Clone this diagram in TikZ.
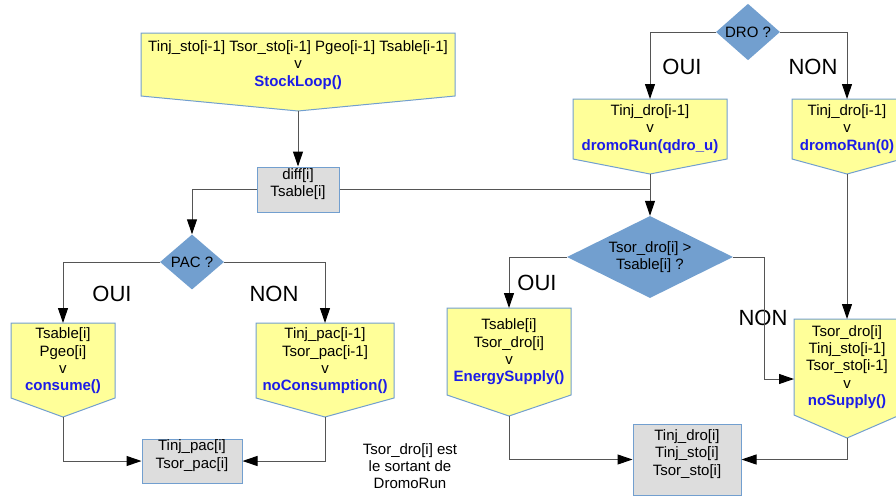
\documentclass[tikz,border=0pt]{standalone}
\usepackage{fontspec}
\setmainfont{Liberation Sans}
\usetikzlibrary{shapes.geometric,fit,arrows.meta}

\definecolor{boxyellow}{HTML}{FFFF99}
\definecolor{boxblue}{HTML}{729FCF}
\definecolor{boxgray}{HTML}{DDDDDD}
\definecolor{linegray}{HTML}{555555}
\definecolor{fnblue}{HTML}{1C1CE8}

\newcommand{\fncall}[1]{\textcolor{fnblue}{\textbf{#1}}}
% pentagon box: name, left, right, top, side bottom, tip
\newcommand{\pentbox}[6]{%
  \path[pent] (#2,#4) -- (#3,#4) -- (#3,#5) -- ({(#2+#3)/2},#6) -- (#2,#5) -- cycle;
  \coordinate (#1-n) at ({(#2+#3)/2},#4);
  \coordinate (#1-s) at ({(#2+#3)/2},#6);
}

\tikzset{
  txt/.style={align=center,inner sep=0pt,font=\fontsize{15}{17.3}\selectfont},
  lbl/.style={inner sep=0pt,font=\fontsize{22}{26}\selectfont},
  pent/.style={draw=boxblue,fill=boxyellow,line width=1pt},
  graybox/.style={txt,draw=boxblue,fill=boxgray,line width=1pt,inner sep=0pt},
  decision/.style={txt,diamond,fill=boxblue,inner sep=0pt},
  wire/.style={draw=linegray,line width=1pt},
  conn/.style={wire,-{Triangle[length=15pt,width=10pt,color=black]}},
}

\begin{document}
\begin{tikzpicture}[x=1pt,y=-1pt]
\useasboundingbox (0,0) rectangle (896,496);
\clip (0,0) rectangle (896,496);

% Top - stock loop and diff
\pentbox{stock}{141}{455}{33}{96}{111}
\node[txt] (stock) at (298,65) {Tinj\_sto[i-1] Tsor\_sto[i-1] Pgeo[i-1] Tsable[i-1]\\v\\\fncall{StockLoop()}};
\node[graybox,fit={(257,167) (339,212)}] (diff) {diff[i]\\Tsable[i]};

% Left part - PAC
\node[decision,minimum width=64pt,minimum height=55pt] (pac) at (192,262) {PAC ?};
\pentbox{consume}{11}{115}{323}{398}{417}
\node[txt] (consume) at (63,361) {Tsable[i]\\Pgeo[i]\\v\\\fncall{consume()}};
\pentbox{nocons}{256}{394}{323}{398}{417}
\node[txt] (nocons) at (325,361) {Tinj\_pac[i-1]\\Tsor\_pac[i-1]\\v\\\fncall{noConsumption()}};
\node[graybox,fit={(142,439) (242,483)}] (pacout) {Tinj\_pac[i]\\Tsor\_pac[i]};
\node[lbl] (pacyes) at (112,294) {OUI};
\node[lbl] (pacno) at (274,294) {NON};
\node[txt] (note) at (410,466) {Tsor\_dro[i] est\\le sortant de\\DromoRun};

% Right part - DRO
\node[decision,minimum width=64pt,minimum height=56pt] (dro) at (748,32) {DRO ?};
\pentbox{qdro}{573}{727}{99}{159}{174}
\node[txt] (qdro) at (650,129) {Tinj\_dro[i-1]\\v\\\fncall{dromoRun(qdro\_u)}};
\pentbox{dronil}{792}{902}{99}{159}{174}
\node[txt] (dronil) at (847,129) {Tinj\_dro[i-1]\\v\\\fncall{dromoRun(0)}};
\node[lbl] (droyes) at (682,67) {OUI};
\node[lbl] (drono) at (813,67) {NON};
\node[decision,aspect=2,minimum width=166pt,minimum height=82pt] (tsor) at (650,257) {Tsor\_dro[i] >\\Tsable[i] ?};
\pentbox{esup}{447}{571}{308}{395}{416}
\node[txt] (esup) at (509,352) {Tsable[i]\\Tsor\_dro[i]\\v\\\fncall{EnergySupply()}};
\pentbox{nosup}{794}{900}{319}{415}{438}
\node[txt] (nosup) at (847,367) {Tsor\_dro[i]\\Tinj\_sto[i-1]\\Tsor\_sto[i-1]\\v\\\fncall{noSupply()}};
\coordinate (nosup-w) at (794,379);
\coordinate (nonbend) at (764,379);
\node[graybox,fit={(633,424) (741,495)}] (stoout) {Tinj\_dro[i]\\Tinj\_sto[i]\\Tsor\_sto[i]};
\node[lbl] (tsoryes) at (537,283) {OUI};
\node[lbl] (tsorno) at (763,318) {NON};

% Connectors
\draw[conn] (stock-s) -- (diff.north);
\draw[conn] (diff.west) -| (pac.north);
\draw[conn] (pac.west) -| (consume-n);
\draw[conn] (pac.east) -| (nocons-n);
\draw[conn] (consume-s) |- (pacout.west);
\draw[conn] (nocons-s) |- (pacout.east);
\draw[conn] (dro.west) -| (qdro-n);
\draw[conn] (dro.east) -| (dronil-n);
\draw[conn] (diff.east) -| (tsor.north);
\draw[wire] (qdro-s) -- (qdro-s |- diff.east);
\draw[conn] (dronil-s) -- (nosup-n);
\draw[conn] (tsor.west) -| (esup-n);
\draw[conn] (tsor.east) -| (nonbend) -- (nosup-w);
\draw[conn] (esup-s) |- (stoout.west);
\draw[conn] (nosup-s) |- (stoout.east);
\end{tikzpicture}
\end{document}
